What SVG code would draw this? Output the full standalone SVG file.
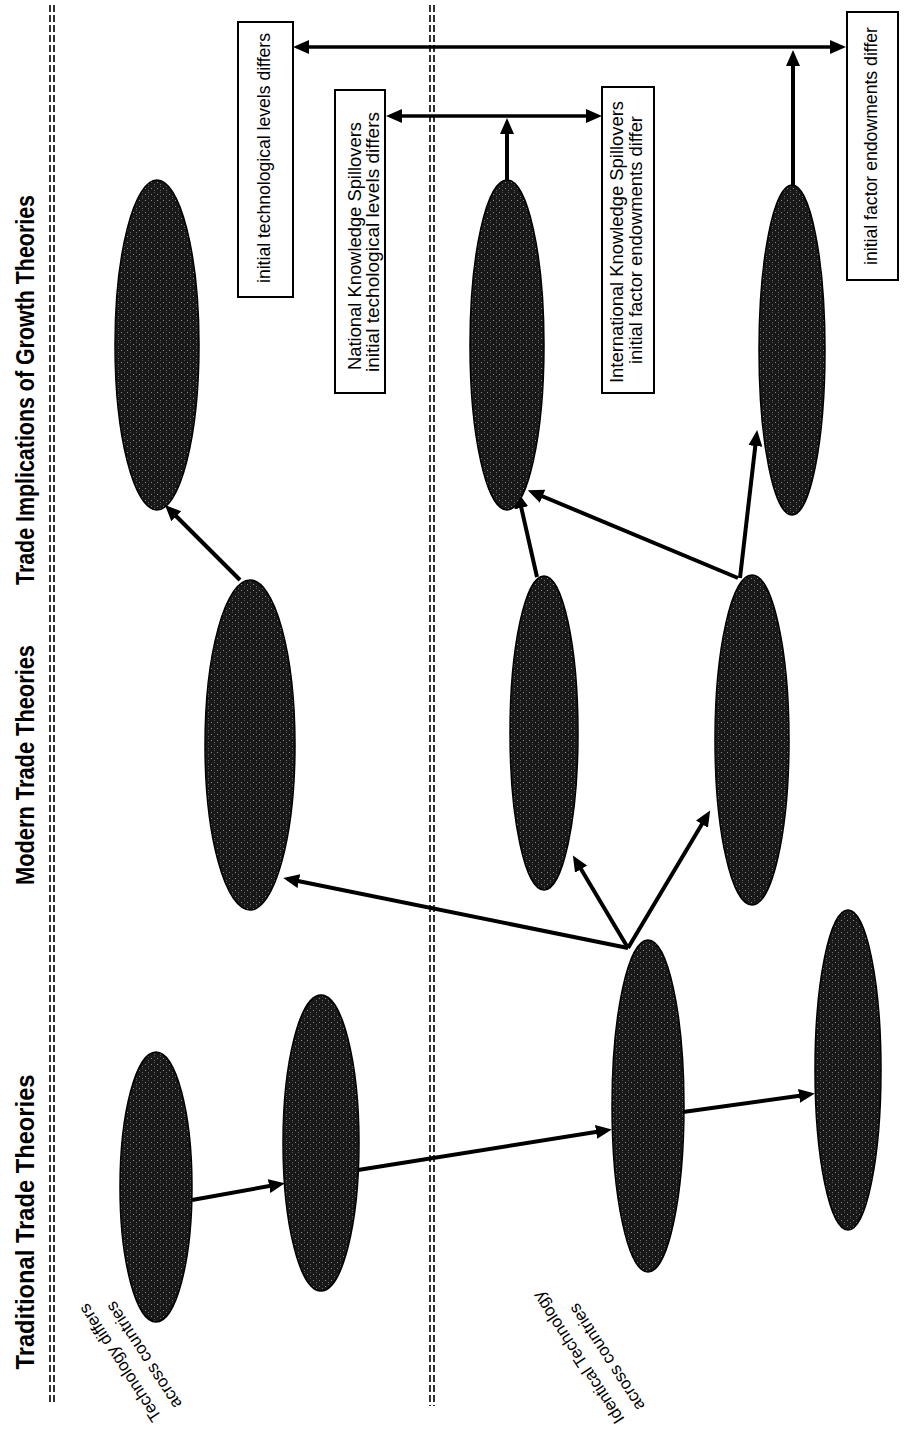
<svg xmlns="http://www.w3.org/2000/svg" width="904" height="1432" viewBox="0 0 904 1432">
<style>
.h{font-family:"Liberation Sans",Arial,sans-serif;font-weight:bold;font-size:25px;fill:#000}
.t{font-family:"Liberation Sans",Arial,sans-serif;font-size:18.5px;fill:#000}
.l{font-family:"Liberation Sans",Arial,sans-serif;font-size:17px;fill:#000}
.box{fill:#fff;stroke:#000;stroke-width:2}
.el{fill:url(#tex);stroke:#000;stroke-width:1.5}
.dash{stroke:#000;stroke-width:1.6;stroke-dasharray:7 3;fill:none}
.c{stroke:#000;stroke-width:4;fill:none;marker-end:url(#ah)}
.d{stroke:#000;stroke-width:3.5;fill:none;marker-start:url(#ah2);marker-end:url(#ah2)}
</style>
<defs>
<pattern id="tex" width="6" height="6" patternUnits="userSpaceOnUse">
<rect width="6" height="6" fill="#181818"/>
<rect x="1" y="2" width="1" height="1" fill="#8a8a8a"/>
<rect x="4" y="4" width="1" height="1" fill="#6a6a6a"/>
<rect x="4" y="0" width="1" height="1" fill="#505050"/>
</pattern>
<marker id="ah" markerUnits="userSpaceOnUse" markerWidth="18" markerHeight="16" refX="6" refY="7" orient="auto">
<path d="M0,0 L16,7 L0,14 z" fill="#000"/>
</marker>
<marker id="ah2" markerUnits="userSpaceOnUse" markerWidth="18" markerHeight="16" refX="6" refY="7" orient="auto-start-reverse">
<path d="M0,0 L16,7 L0,14 z" fill="#000"/>
</marker>
</defs>
<rect width="904" height="1432" fill="#fff"/>

<g id="headings">
<text class="h" transform="translate(34,1222) rotate(-90)" text-anchor="middle" textLength="295" lengthAdjust="spacingAndGlyphs">Traditional Trade Theories</text>
<text class="h" transform="translate(34,765) rotate(-90)" text-anchor="middle" textLength="240" lengthAdjust="spacingAndGlyphs">Modern Trade Theories</text>
<text class="h" transform="translate(34,390) rotate(-90)" text-anchor="middle" textLength="390" lengthAdjust="spacingAndGlyphs">Trade Implications of Growth Theories</text>
</g>

<g id="separators">
<line class="dash" x1="50" y1="5" x2="50" y2="1402"/>
<line class="dash" x1="54" y1="5" x2="54" y2="1402"/>
<line class="dash" x1="430" y1="5" x2="430" y2="1406"/>
<line class="dash" x1="434" y1="5" x2="434" y2="1406"/>
</g>

<g id="row-labels">
<text class="l" transform="translate(162,1417) rotate(-123)">Technology differs<tspan x="0" dy="24">across countries</tspan></text>
<text class="l" transform="translate(625,1419) rotate(-123)">Identical Technology<tspan x="0" dy="24">across countries</tspan></text>
</g>

<g id="connectors">
<line class="c" x1="192" y1="1200" x2="275" y2="1185"/>
<line class="c" x1="358" y1="1170" x2="602" y2="1131"/>
<line class="c" x1="683" y1="1112" x2="805" y2="1095"/>
<line class="c" x1="628" y1="948" x2="293" y2="880"/>
<line class="c" x1="628" y1="948" x2="578" y2="864"/>
<line class="c" x1="628" y1="948" x2="705" y2="819"/>
<line class="c" x1="240" y1="580" x2="172" y2="512"/>
<line class="c" x1="537" y1="577" x2="520" y2="502"/>
<line class="c" x1="738" y1="578" x2="537" y2="494"/>
<line class="c" x1="740" y1="578" x2="756" y2="440"/>
<line class="c" x1="507" y1="182" x2="507" y2="128"/>
<line class="c" x1="793" y1="186" x2="793" y2="60"/>
<line class="d" x1="303" y1="47" x2="836" y2="47"/>
<line class="d" x1="396" y1="116" x2="592" y2="116"/>
</g>

<g id="n-trad-tech1"><ellipse class="el" cx="156" cy="1187" rx="36" ry="135"/></g>
<g id="n-trad-tech2"><ellipse class="el" cx="321" cy="1143" rx="38" ry="148"/></g>
<g id="n-trad-id1"><ellipse class="el" cx="648" cy="1106" rx="36" ry="166"/></g>
<g id="n-trad-id2"><ellipse class="el" cx="848" cy="1070" rx="33" ry="160"/></g>
<g id="n-mod-tech"><ellipse class="el" cx="250" cy="745" rx="45" ry="165"/></g>
<g id="n-mod-id1"><ellipse class="el" cx="544" cy="733" rx="34" ry="157"/></g>
<g id="n-mod-id2"><ellipse class="el" cx="752" cy="740" rx="37" ry="165"/></g>
<g id="n-grow-tech"><ellipse class="el" cx="157" cy="345" rx="42" ry="165"/></g>
<g id="n-grow-id1"><ellipse class="el" cx="507" cy="345" rx="37" ry="165"/></g>
<g id="n-grow-id2"><ellipse class="el" cx="792" cy="350" rx="33" ry="165"/></g>

<g id="b-init-tech">
<rect class="box" x="238" y="22" width="55" height="275"/>
<text class="t" transform="translate(270,158) rotate(-90)" text-anchor="middle" textLength="250" lengthAdjust="spacingAndGlyphs">initial technological levels differs</text>
</g>
<g id="b-national">
<rect class="box" x="335" y="90" width="50" height="303"/>
<text class="t" transform="translate(361,246) rotate(-90)" text-anchor="middle" textLength="248" lengthAdjust="spacingAndGlyphs">National Knowledge Spillovers</text>
<text class="t" transform="translate(379,242) rotate(-90)" text-anchor="middle" textLength="260" lengthAdjust="spacingAndGlyphs">initial techological levels differs</text>
</g>
<g id="b-international">
<rect class="box" x="602" y="87" width="52" height="306"/>
<text class="t" transform="translate(623,242) rotate(-90)" text-anchor="middle" textLength="282" lengthAdjust="spacingAndGlyphs">International Knowledge Spillovers</text>
<text class="t" transform="translate(642,240) rotate(-90)" text-anchor="middle" textLength="248" lengthAdjust="spacingAndGlyphs">initial factor endowments differ</text>
</g>
<g id="b-init-factor">
<rect class="box" x="847" y="12" width="51" height="268"/>
<text class="t" transform="translate(877,146) rotate(-90)" text-anchor="middle" textLength="238" lengthAdjust="spacingAndGlyphs">initial factor endowments differ</text>
</g>
</svg>
